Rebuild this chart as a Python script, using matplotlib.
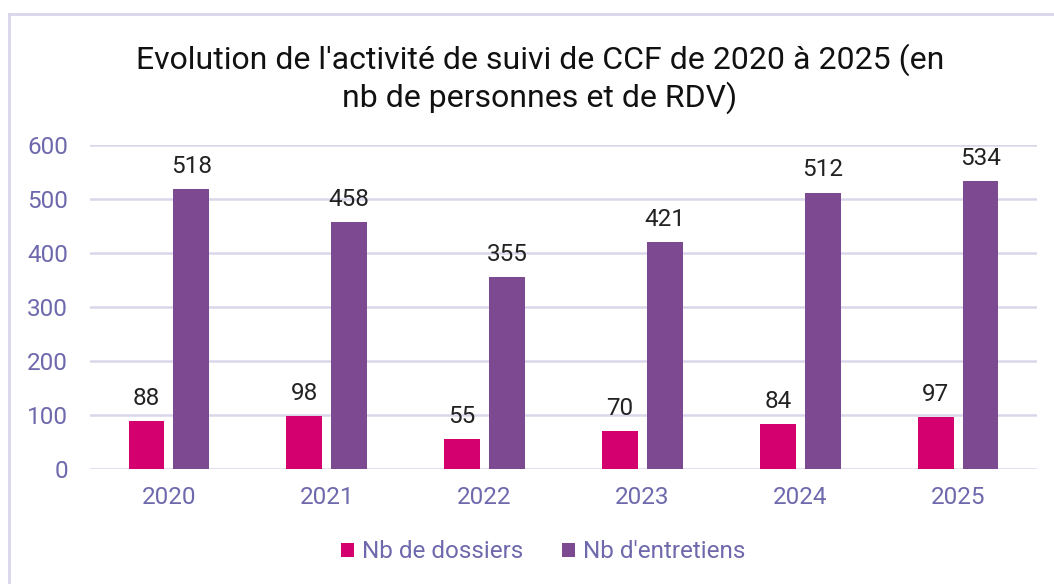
import matplotlib.pyplot as plt
import numpy as np
from matplotlib.lines import Line2D

plt.rcParams['font.family'] = ['Roboto', 'DejaVu Sans']

years = ["2020", "2021", "2022", "2023", "2024", "2025"]
dossiers = [88, 98, 55, 70, 84, 97]
entretiens = [518, 458, 355, 421, 512, 534]

pink = "#D5006F"
purple = "#7D4A92"
lavender = "#6E69AD"
grid_col = "#DAD6EA"

fig = plt.figure(figsize=(10.54, 5.84), dpi=100)
ax = fig.add_axes([90 / 1054, 1 - 469 / 584, 947 / 1054, 324 / 584])

x = np.arange(len(years))
w = 0.228
b1 = ax.bar(x - 0.142, dossiers, w, color=pink, label="Nb de dossiers")
b2 = ax.bar(x + 0.142, entretiens, w, color=purple, label="Nb d'entretiens")

for bars in (b1, b2):
    for r in bars:
        ax.annotate(str(int(r.get_height())), (r.get_x() + r.get_width() / 2, r.get_height()),
                    xytext=(0, 8), textcoords="offset points", ha="center", va="bottom",
                    fontsize=17.5, color="#222222")

ax.set_xlim(-0.5, len(years) - 0.5)
ax.set_ylim(0, 600)
ax.set_yticks(range(0, 601, 100))
ax.set_xticks(x)
ax.set_xticklabels(years)
ax.tick_params(axis="both", length=0, labelsize=17.5, labelcolor=lavender)
ax.tick_params(axis="x", pad=12)
ax.tick_params(axis="y", pad=16)
ax.grid(axis="y", color=grid_col, linewidth=1.8)
ax.set_axisbelow(True)
for s in ax.spines.values():
    s.set_visible(False)

fig.text(540 / 1054, 1 - 60 / 584, "Evolution de l'activité de suivi de CCF de 2020 à 2025 (en",
         ha="center", va="center", fontsize=23, color="#111111")
fig.text(540 / 1054, 1 - 98 / 584, "nb de personnes et de RDV)",
         ha="center", va="center", fontsize=23, color="#111111")

leg = fig.legend(handles=[b1, b2], loc="center", bbox_to_anchor=(543 / 1054, 1 - 552 / 584),
                 ncol=2, frameon=False, fontsize=17.5, handlelength=0.55, handleheight=0.55,
                 handletextpad=0.3, columnspacing=1.6)
for t in leg.get_texts():
    t.set_color(lavender)

# outer frame (top and left edges only visible)
fig.add_artist(Line2D([9 / 1054, 1], [1 - 14 / 584, 1 - 14 / 584], color=grid_col, linewidth=2,
                      transform=fig.transFigure))
fig.add_artist(Line2D([9 / 1054, 9 / 1054], [0, 1 - 14 / 584], color=grid_col, linewidth=2,
                      transform=fig.transFigure))

fig.savefig("out.png", dpi=100)
